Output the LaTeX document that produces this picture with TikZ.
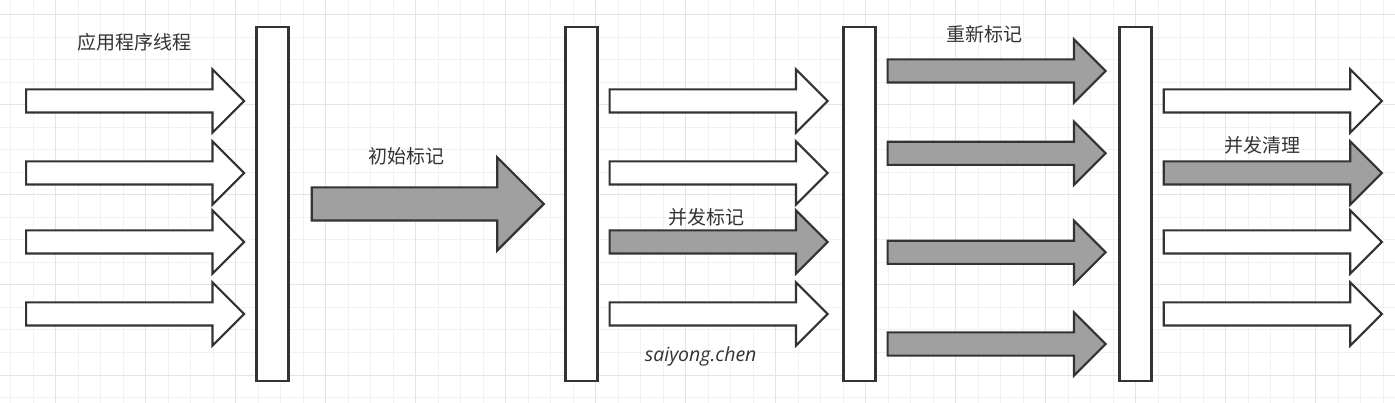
\documentclass[tikz,border=0pt]{standalone}
\usepackage{fontspec}
\setmainfont{Noto Sans CJK SC}
\newfontfamily\signfont{Open Sans}
\usetikzlibrary{shapes.arrows}

\definecolor{linec}{HTML}{333333}
\definecolor{markc}{HTML}{A0A0A0}
\definecolor{textc}{HTML}{333333}
\definecolor{minorc}{HTML}{F1F1F1}
\definecolor{majorc}{HTML}{E4E4E4}

\begin{document}
\begin{tikzpicture}[
    x=1pt,
    y=-1pt,
    pausebar/.style={
        rectangle,
        draw=linec,
        line width=2.2pt,
        fill=white,
        minimum width=32pt,
        minimum height=354pt,
        inner sep=0pt,
    },
    thread/.style={
        single arrow,
        draw=linec,
        line width=2.2pt,
        fill=white,
        anchor=tail,
        minimum height=218pt,
        inner xsep=0pt,
        inner ysep=10.5pt,
        single arrow head extend=20pt,
        single arrow tip angle=90,
    },
    marked/.style={
        thread,
        fill=markc
    },
    stagetext/.style={
        text=textc,
        inner sep=0pt,
        font=\fontsize{19}{22}\selectfont
    },
    minorline/.style={
        draw=minorc,
        line width=1pt
    },
    majorline/.style={
        draw=majorc,
        line width=1pt
    }
]

    \useasboundingbox (0,0) rectangle (1395,403);
    \fill[white] (0,0) rectangle (1395,403);

    % background grid
    \foreach \gx in {0,...,61}
        \draw[minorline] ({10.7+22.5*\gx},0) -- ++(0,403);
    \foreach \gy in {0,...,17}
        \draw[minorline] (0,{15+22.5*\gy}) -- ++(1395,0);
    \foreach \gx in {0,...,14}
        \draw[majorline] ({55.7+90*\gx},0) -- ++(0,403);
    \foreach \gy in {0,...,4}
        \draw[majorline] (0,{15+90*\gy}) -- ++(1395,0);

    \node[pausebar] (bar1) at (272.5, 203.7) {};
    \node[pausebar] (bar2) at (581.5, 203.7) {};
    \node[pausebar] (bar3) at (859.5, 203.7) {};
    \node[pausebar] (bar4) at (1135.4, 203.7) {};

    \node[thread] (a1) at (25, 101) {};
    \node[thread] (a2) at (25, 173) {};
    \node[thread] (a3) at (25, 242) {};
    \node[thread] (a4) at (25, 314) {};

    \node[marked, minimum height=232pt, inner ysep=15.5pt, single arrow head extend=30pt] (init) at (310.7, 204) {};

    \node[thread] (b1) at (608.5, 101) {};
    \node[thread] (b2) at (608.5, 173) {};
    \node[marked] (b3) at (608.5, 242) {};
    \node[thread] (b4) at (608.5, 314) {};

    \node[marked] (c1) at (886.5, 71) {};
    \node[marked] (c2) at (886.5, 153.3) {};
    \node[marked] (c3) at (886.5, 252.3) {};
    \node[marked] (c4) at (886.5, 344) {};

    \node[thread] (d1) at (1162.7, 101) {};
    \node[marked] (d2) at (1162.7, 173) {};
    \node[thread] (d3) at (1162.7, 242) {};
    \node[thread] (d4) at (1162.7, 314) {};

    \node[stagetext] (app) at (134.8, 42.7) {应用程序线程};
    \node[stagetext] (initmark) at (406, 156.7) {初始标记};
    \node[stagetext] (concmark) at (706.4, 217.3) {并发标记};
    \node[stagetext] (remark) at (984.6, 34.3) {重新标记};
    \node[stagetext] (sweep) at (1262.5, 145.7) {并发清理};
    \node[stagetext, font=\signfont\itshape\fontsize{19.5}{22}\selectfont] (sign) at (700.7, 356) {saiyong.chen};
\end{tikzpicture}
\end{document}
